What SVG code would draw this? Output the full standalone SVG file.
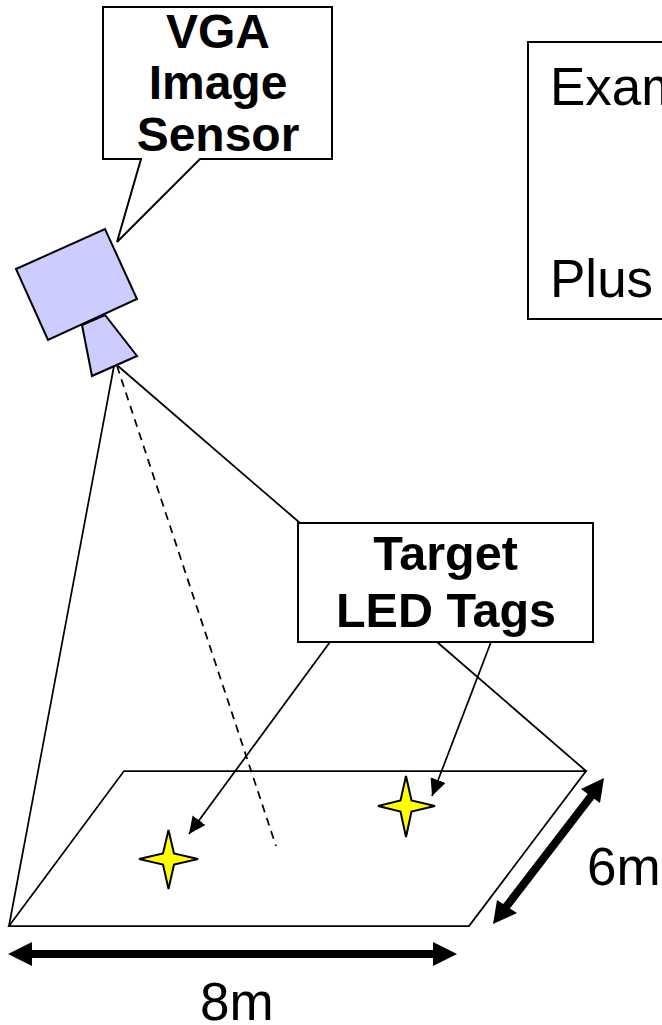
<svg xmlns="http://www.w3.org/2000/svg" width="662" height="1025" viewBox="0 0 662 1025">
<style>
.l{fill:none;stroke:#000;stroke-width:1.75}
.s{fill:#ccccff;stroke:#000;stroke-width:2}
.b{fill:#fff;stroke:#000;stroke-width:2}
.y{fill:#ffff00;stroke:#000;stroke-width:2}
.h{font-family:"Liberation Sans",Arial,sans-serif;font-size:48px;font-weight:bold;text-anchor:middle}
.h2{font-family:"Liberation Sans",Arial,sans-serif;font-size:48.500px;font-weight:bold;text-anchor:middle}
.t{font-family:"Liberation Sans",Arial,sans-serif;font-size:53px}
.a{fill:none;stroke:#000;stroke-width:1.75;marker-end:url(#m)}
.d{fill:none;stroke:#000;stroke-width:8}
</style>
<defs>
<marker id="m" markerUnits="userSpaceOnUse" markerWidth="18" markerHeight="18" refX="17" refY="8" orient="auto"><path d="M0 0L17 8L0 16z" fill="#000"/></marker>
</defs>
<g id="connectors">
<path class="l" d="M9 926L114 366"/>
<path class="l" d="M118 366L300 523"/>
<path class="l" d="M117 366L276 846" stroke-dasharray="8 6"/>
<path class="l" d="M9 926L124 771H586L469 926z"/>
<path class="l" d="M437 642L586 771"/>
<path class="a" d="M330 642L189 834"/>
<path class="a" d="M491 642L432 796"/>
</g>
<g id="sensor">
<path class="s" d="M82 325L105 315L137 356L92 376z"/>
<path class="s" d="M16 269L105 229L137 299L48 340z"/>
</g>
<g id="vga-label">
<path class="b" d="M103 7H332V159H200L117 242L141 159H103z"/>
<text class="h" x="218" y="47.500">VGA</text>
<text class="h" x="218" y="99">Image</text>
<text class="h" x="218" y="151">Sensor</text>
</g>
<g id="example-box">
<path class="b" d="M662 42H528V319H662"/>
<text class="t" x="550" y="105">Exam</text>
<text class="t" x="550" y="297">Plus</text>
</g>
<g id="tags-label">
<rect class="b" x="298" y="523" width="295" height="119"/>
<text class="h2" x="445.500" y="570">Target</text>
<text class="h2" x="446" y="627">LED Tags</text>
</g>
<g id="tag-1"><path class="y" d="M168.500 830L174 853.500L198 859L174 864.500L168.500 889L163 864.500L139 859L163 853.500z"/></g>
<g id="tag-2"><path class="y" d="M406 776L411.500 800.500L435 806L411.500 811.500L406 837L400.500 811.500L378 806L400.500 800.500z"/></g>
<g id="dimensions">
<path class="d" d="M24 954H442"/>
<path d="M8 954L32 942V966zM457 954L433 942V966z"/>
<path class="d" d="M592 795L506 907"/>
<path d="M604 778L600 803L581 789zM493 924L497 900L517 913z"/>
<text class="t" x="200" y="1020">8m</text>
<text class="t" x="587" y="885">6m</text>
</g>
</svg>
